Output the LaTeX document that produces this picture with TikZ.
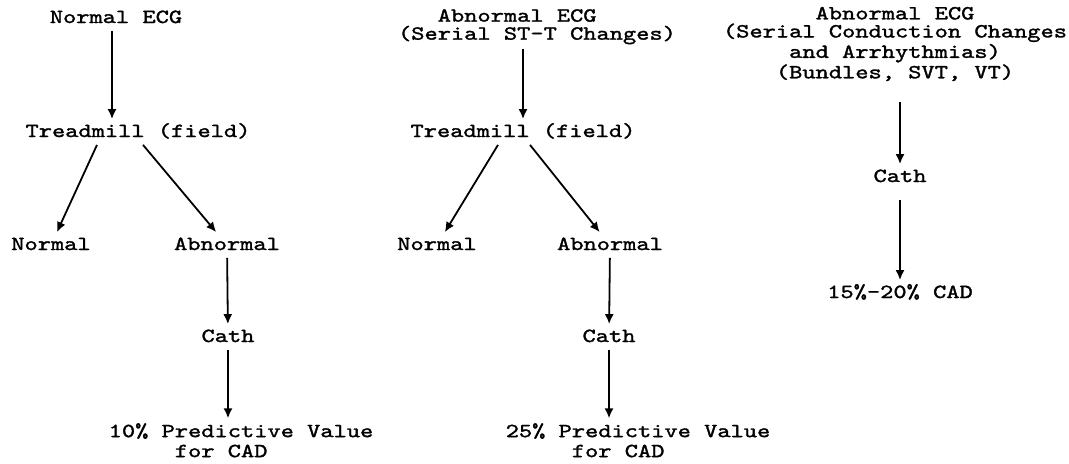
\documentclass[tikz,border=0pt]{standalone}
\usepackage{fontspec}
\usepackage{tikz}
\usetikzlibrary{arrows.meta}

\newfontfamily\ecgtt{lmmono10-regular.otf}[FakeStretch=1.26,FakeBold=1.5]
\newcommand{\ecgfont}{\fontsize{10pt}{9pt}\ecgtt}
\tikzset{
	lbl/.style={font=\ecgfont, inner sep=2pt, text height=6.5pt, text depth=1.5pt},
	block/.style={font=\ecgfont, inner sep=2pt, align=center},
}

\begin{document}
\begin{tikzpicture}[x=0.5pt, y=-0.5pt, line width=0.9pt, >={Latex[length=5pt,width=4.5pt]}]
		\useasboundingbox (0,0) rectangle (1069,463);
		%erste Spalte
		\node[lbl] (ecgA) at (116,18) {Normal ECG};
		\node[lbl] (tmA) at (138,132) {Treadmill (field)};
		\node[lbl] (nlA) at (51,245) {Normal};
		\node[lbl] (abA) at (227,245) {Abnormal};
		\node[lbl] (cathA) at (228,337) {Cath};
		\node[block, align=left, font=\fontsize{10pt}{10pt}\ecgtt] (pvA) at (241,441) {10\% Predictive Value\\\phantom{10\% P}for CAD};
		
		%zweite Spalte
		\node[block, align=left] (ecgB) at (537,26) {\phantom{(Se}Abnormal ECG\\(Serial ST-T Changes)};
		\node[lbl] (tmB) at (523,132) {Treadmill (field)};
		\node[lbl] (nlB) at (437,245) {Normal};
		\node[lbl] (abB) at (610,245) {Abnormal};
		\node[lbl] (cathB) at (609,337) {Cath};
		\node[block, align=left, font=\fontsize{10pt}{10pt}\ecgtt] (pvB) at (638,441) {25\% Predictive Value\\\phantom{25\% P}for CAD};
		
		%dritte Spalte
		\node[block] (ecgC) at (895,44) {Abnormal ECG\\(Serial Conduction Changes\\and Arrhythmias)\\(Bundles, SVT, VT)};
		\node[lbl] (cathC) at (900,177) {Cath};
		\node[lbl] (cadC) at (900,293) {15\%-20\% CAD};
		
		\path [->] 
		([xshift=-2pt]ecgA.south) edge ([xshift=-2pt]ecgA.south |- tmA.north)
		([xshift=-20.5pt]tmA.south) edge (nlA)
		([xshift=2.5pt]tmA.south) edge (abA)
		(abA) edge (cathA)
		(cathA) edge (cathA |- pvA.north)
		(ecgB.south -| tmB) edge (tmB)
		([xshift=-12.5pt]tmB.south) edge (nlB)
		([xshift=3.5pt]tmB.south) edge (abB)
		(abB) edge (cathB)
		(cathB) edge (cathB |- pvB.north)
		([yshift=-8pt]ecgC.south -| cathC) edge (cathC)
		([yshift=-5pt]cathC.south) edge (cadC)
		; 
\end{tikzpicture}
\end{document}
